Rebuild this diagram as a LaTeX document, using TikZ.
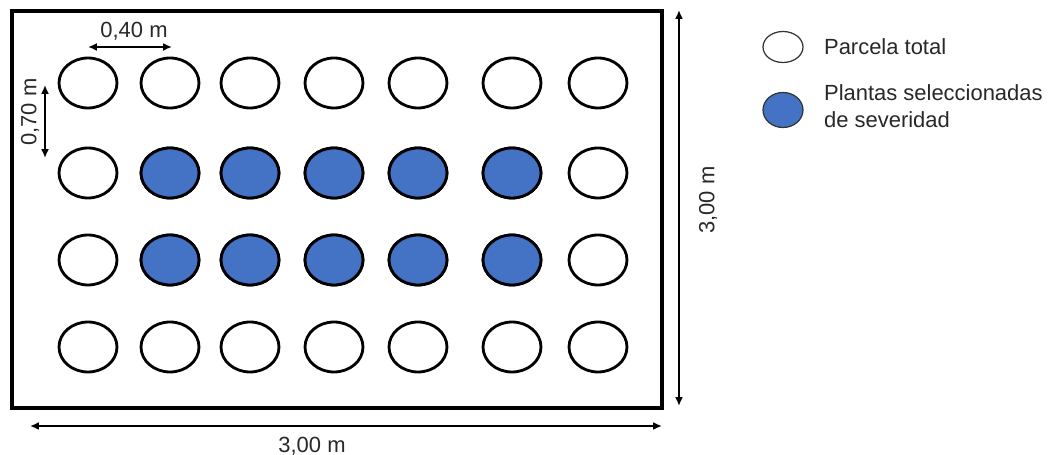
\documentclass[tikz,border=0pt]{standalone}
\usepackage{fontspec}
\setmainfont{Liberation Sans}
\usepackage{xcolor}
\definecolor{selblue}{RGB}{68,114,196}
\definecolor{txtgray}{RGB}{40,40,40}
\usetikzlibrary{arrows.meta, shapes.geometric, positioning}

\begin{document}
\begin{tikzpicture}[x=0.02cm, y=-0.02cm,
    plant/.style={ellipse, draw=black, line width=1.6pt, fill=white,
                  minimum width=1.16cm, minimum height=1.0cm, inner sep=0pt},
    sel/.style={plant, fill=selblue},
    keyplant/.style={ellipse, draw=black!80, line width=0.7pt, fill=white,
                  minimum width=0.8cm, minimum height=0.62cm, inner sep=0pt},
    field/.style={draw=black, line width=1.8pt},
    arr/.style={{Latex[length=5pt,width=4.5pt]}-{Latex[length=5pt,width=4.5pt]}, line width=1pt},
    lbl/.style={font=\fontsize{12.5}{15}\selectfont, text=txtgray, inner sep=1pt}
]
    \useasboundingbox (0,0) rectangle (1062,455);

    % plot boundary
    \draw[field] (12,11) rectangle (662,408);

    % plants
    \foreach \y [count=\r] in {83,173,260,347} {
        \foreach \x [count=\c] in {88,170,250,334,418,512,598} {
            \node[plant] (p-\r-\c) at (\x,\y) {};
        }
    }
    \foreach \r in {2,3} {
        \foreach \c in {2,...,6} {
            \node[sel] at (p-\r-\c) {};
        }
    }

    % spacing between plants
    \coordinate (h1) at (88,47);
    \coordinate (h2) at (172,47);
    \draw[arr] (h1) -- (h2);
    \node[lbl] (hlbl) at (134,31) {0,40 m};
    \coordinate (v1) at (45,85);
    \coordinate (v2) at (45,158);
    \draw[arr] (v1) -- (v2);
    \node[lbl, rotate=90] (vlbl) at (30,112) {0,70 m};

    % plot size
    \coordinate (r1) at (679,10);
    \coordinate (r2) at (679,406);
    \draw[arr] (r1) -- (r2);
    \node[lbl, rotate=90] (rlbl) at (708,200) {3,00 m};
    \coordinate (b1) at (30,426);
    \coordinate (b2) at (662,426);
    \draw[arr] (b1) -- (b2);
    \node[lbl] (blbl) at (312,446) {3,00 m};

    % legend
    \node[keyplant] (k1) at (783,47) {};
    \node[lbl, anchor=west] (k1t) at (822,47) {Parcela total};
    \node[keyplant, fill=selblue, minimum height=0.7cm] (k2) at (783,110) {};
    \node[lbl, anchor=west, align=left] (k2t) at (822,106) {Plantas seleccionadas\\de severidad};
\end{tikzpicture}
\end{document}
